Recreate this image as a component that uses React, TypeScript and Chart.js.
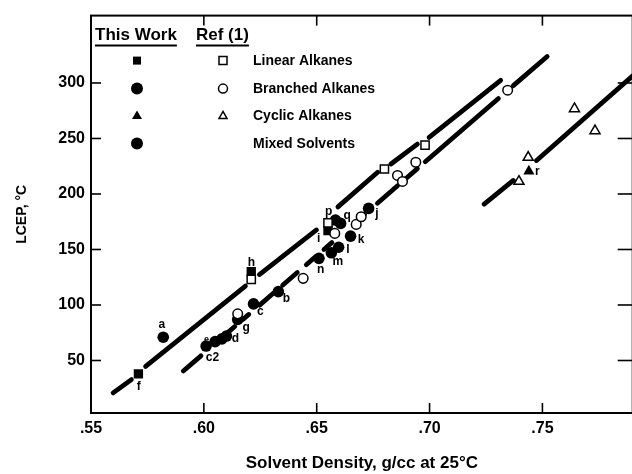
import React, { useEffect, useRef } from 'react';
import { Chart, registerables } from 'chart.js';

Chart.register(...registerables);

const FONT = "'Liberation Sans', Arial, Helvetica, sans-serif";

// ---- axes ----
const xTickValues = [0.55, 0.6, 0.65, 0.7, 0.75];
const xTickLabels = ['.55', '.60', '.65', '.70', '.75'];
const yTickValues = [50, 100, 150, 200, 250, 300];
const yTickLabels = ['50', '100', '150', '200', '250', '300'];
const xMin = 0.55;
const xMax = 0.79;
const yMin = 2.7;
const yMax = 360.7;
const xTitle = 'Solvent Density, g/cc at 25°C';
const yTitle = 'LCEP, °C';

// ---- This Work (filled markers) ----
const workLinearX = [0.571, 0.621, 0.655];
const workLinearY = [38, 130, 167];
const workCircleX = [0.582, 0.601, 0.605, 0.608, 0.61, 0.615, 0.622, 0.633, 0.651, 0.6565, 0.6597, 0.665, 0.6583, 0.6606, 0.673];
const workCircleY = [71, 63, 67, 69.5, 72, 87, 101, 112, 142, 147, 152, 162, 176.5, 173.5, 187];
const workCyclicX = [0.744];
const workCyclicY = [220.5];

// ---- Ref (1) (open markers) ----
const refLinearX = [0.621, 0.655, 0.68, 0.698];
const refLinearY = [123, 174, 222.5, 244];
const refBranchedX = [0.615, 0.644, 0.658, 0.6675, 0.6697, 0.6858, 0.688, 0.6939, 0.7346];
const refBranchedY = [92, 124, 164.5, 172.6, 179.5, 216.7, 211.3, 228.6, 293.5];
const refCyclicX = [0.7396, 0.7437, 0.7642, 0.7733];
const refCyclicY = [211.3, 233, 276.8, 256.9];

// ---- correlation lines (null = break in the line) ----
const lineAX = [0.5598, 0.5679, 0.571, 0.5742, 0.6184, 0.621, 0.6246, 0.6499, 0.655, 0.6594, 0.677, 0.68, 0.6829, 0.6946, 0.698, 0.6998, 0.7315];
const lineAY = [20.8, 32.8, null, 44.6, 117, null, 127.4, 167.6, null, 188.4, 219.6, null, 227, 244.9, null, 250.9, 302.4];
const lineBX = [0.5909, 0.5987, 0.603, 0.6107, 0.6137, 0.6155, 0.6173, 0.6199, 0.622, 0.6247, 0.6309, 0.633, 0.6349, 0.6414, 0.643, 0.6454, 0.6493, 0.651, 0.6532, 0.6567, 0.66, 0.6675, 0.6712, 0.673, 0.6769, 0.6858, 0.687, 0.6889, 0.6946, 0.696, 0.6981, 0.7305, 0.734, 0.7371, 0.7521];
const lineBY = [40.5, 54.2, null, 75.3, 80.6, null, 86.9, 91.5, null, 99.9, 110.8, null, 117.8, 129.3, null, 136.3, 143.2, null, 150, 156.2, null, 175.2, 181.6, null, 191.7, 207.4, null, 212.8, 222.8, null, 229, 286, null, 297.6, 323.9];
const lineCX = [0.7242, 0.7371, 0.742, 0.7474, 0.79];
const lineCY = [190.8, 212.2, null, 230.1, 306.4];

// ---- point labels ----
const labelText = ['a', 'b', 'c', 'c2', 'd', 'e', 'f', 'g', 'h', 'i', 'j', 'k', 'l', 'm', 'n', 'p', 'q', 'r'];
const labelX = [0.5814, 0.6366, 0.625, 0.6038, 0.614, 0.6012, 0.5712, 0.6187, 0.6211, 0.6509, 0.6767, 0.6697, 0.6638, 0.6594, 0.6518, 0.6553, 0.6635, 0.7478];
const labelY = [81.9, 105.4, 94, 52.4, 69.4, 68.8, 26, 79.7, 137.8, 159.6, 182.4, 158.7, 149.7, 139.3, 131.9, 184, 180.4, 220.5];

// ---- legend ----
const legendHeaders = ['This Work', 'Ref (1)'];
const legendRows = ['Linear Alkanes', 'Branched Alkanes', 'Cyclic Alkanes', 'Mixed Solvents'];
const legendShapes = ['square', 'circle', 'triangle', 'circle'];
const legendHasRef = [true, true, true, false];

const pts = (xs: number[], ys: (number | null)[]) => xs.map((x, i) => ({ x, y: ys[i] }));

function drawShape(ctx: CanvasRenderingContext2D, shape: string, x: number, y: number, size: number, filled: boolean) {
  ctx.beginPath();
  if (shape === 'square') {
    ctx.rect(x - size / 2, y - size / 2, size, size);
  } else if (shape === 'circle') {
    ctx.arc(x, y, size / 2, 0, Math.PI * 2);
  } else {
    const h = size * 0.87;
    ctx.moveTo(x, y - h * 0.6);
    ctx.lineTo(x + size / 2, y + h * 0.4);
    ctx.lineTo(x - size / 2, y + h * 0.4);
    ctx.closePath();
  }
  if (filled) {
    ctx.fillStyle = '#000';
    ctx.fill();
  } else {
    ctx.fillStyle = '#fff';
    ctx.fill();
    ctx.lineWidth = 1.5;
    ctx.strokeStyle = '#000';
    ctx.stroke();
  }
}

const framePlugin = {
  id: 'frameTicks',
  afterDatasetsDraw(chart: any) {
    const { ctx, chartArea, scales } = chart;
    const { left, right, top, bottom } = chartArea;
    const xs = scales.x;
    const ys = scales.y;
    ctx.save();
    ctx.strokeStyle = '#000';
    ctx.lineWidth = 2;
    ctx.strokeRect(left, top, right - left, bottom - top);
    ctx.lineWidth = 1.6;
    const tl = 10;
    const seg = (x1: number, y1: number, x2: number, y2: number) => {
      ctx.beginPath();
      ctx.moveTo(x1, y1);
      ctx.lineTo(x2, y2);
      ctx.stroke();
    };
    xTickValues.forEach((v) => {
      if (v === xMin) return;
      const px = xs.getPixelForValue(v);
      seg(px, bottom, px, bottom - tl);
      seg(px, top, px, top + tl);
    });
    yTickValues.forEach((v) => {
      const py = ys.getPixelForValue(v);
      seg(left, py, left + tl, py);
      seg(right, py, right - tl - 5, py);
    });

    // point labels
    ctx.fillStyle = '#000';
    ctx.textAlign = 'center';
    ctx.textBaseline = 'middle';
    labelText.forEach((t, i) => {
      ctx.font = `bold ${t === 'e' ? 9 : 12}px ${FONT}`;
      ctx.fillText(t, xs.getPixelForValue(labelX[i]), ys.getPixelForValue(labelY[i]));
    });

    // legend
    const L = left;
    const T = top;
    ctx.textAlign = 'left';
    ctx.font = `bold 17px ${FONT}`;
    const hx = [L + 4, L + 105];
    legendHeaders.forEach((h, i) => {
      ctx.fillText(h, hx[i], T + 20);
      const w = ctx.measureText(h).width;
      ctx.lineWidth = 2;
      seg(hx[i], T + 30, hx[i] + w, T + 30);
    });
    ctx.font = `bold 14px ${FONT}`;
    const rowY = [T + 45, T + 73, T + 100, T + 128];
    legendRows.forEach((r, i) => {
      const y = rowY[i];
      const shp = legendShapes[i];
      const fs = shp === 'circle' ? 12 : shp === 'square' ? 8 : 10;
      drawShape(ctx, shp, L + 46, y, fs, true);
      if (legendHasRef[i]) drawShape(ctx, shp, L + 132, y, shp === 'circle' ? 9 : 8, false);
      ctx.fillStyle = '#000';
      ctx.fillText(r, L + 162, y + 1);
    });
    ctx.restore();
  },
};

const lineDs = (xs: number[], ys: (number | null)[]) => ({
  type: 'line' as const,
  data: pts(xs, ys),
  showLine: true,
  spanGaps: false,
  borderColor: '#000',
  borderWidth: 4.8,
  borderCapStyle: 'round' as const,
  pointRadius: 0,
  pointHoverRadius: 0,
  tension: 0,
  order: 10,
});

const markerDs = (xs: number[], ys: number[], style: string, radius: number, filled: boolean) => ({
  type: 'scatter' as const,
  data: pts(xs, ys),
  showLine: false,
  pointStyle: style,
  pointRadius: radius,
  pointBackgroundColor: filled ? '#000' : '#fff',
  pointBorderColor: '#000',
  pointBorderWidth: filled ? 0 : 1.5,
  order: 0,
});

export default function App() {
  const ref = useRef<HTMLCanvasElement | null>(null);

  useEffect(() => {
    if (!ref.current) return;
    const chart = new Chart(ref.current, {
      type: 'scatter',
      data: {
        datasets: [
          lineDs(lineAX, lineAY),
          lineDs(lineBX, lineBY),
          lineDs(lineCX, lineCY),
          markerDs(refLinearX, refLinearY, 'rect', 5.8, false),
          markerDs(refBranchedX, refBranchedY, 'circle', 4.8, false),
          markerDs(refCyclicX, refCyclicY, 'triangle', 5.8, false),
          markerDs(workLinearX, workLinearY, 'rect', 6.6, true),
          markerDs(workCircleX, workCircleY, 'circle', 5.8, true),
          markerDs(workCyclicX, workCyclicY, 'triangle', 6.4, true),
        ] as any,
      },
      options: {
        responsive: false,
        animation: false,
        events: [],
        layout: { padding: { top: 12, right: 3, left: 0, bottom: 0 } },
        plugins: { legend: { display: false }, tooltip: { enabled: false } },
        scales: {
          x: {
            type: 'linear',
            min: xMin,
            max: xMax,
            grid: { display: false, drawTicks: false },
            border: { display: false },
            afterBuildTicks: (s: any) => {
              s.ticks = xTickValues.map((v) => ({ value: v }));
            },
            afterFit: (s: any) => {
              s.height = 61;
            },
            ticks: {
              autoSkip: false,
              maxRotation: 0,
              padding: 6,
              color: '#000',
              font: { family: FONT, weight: 'bold', size: 16 },
              callback: (_v: any, i: number) => xTickLabels[i],
            },
            title: {
              display: true,
              text: xTitle,
              color: '#000',
              padding: { top: 0, bottom: 0 },
              font: { family: FONT, weight: 'bold', size: 17 },
            },
          },
          y: {
            type: 'linear',
            min: yMin,
            max: yMax,
            grid: { display: false, drawTicks: false },
            border: { display: false },
            afterBuildTicks: (s: any) => {
              s.ticks = yTickValues.map((v) => ({ value: v }));
            },
            afterFit: (s: any) => {
              s.width = 91;
            },
            ticks: {
              autoSkip: false,
              padding: 6,
              color: '#000',
              font: { family: FONT, weight: 'bold', size: 16 },
              callback: (_v: any, i: number) => yTickLabels[i],
            },
            title: {
              display: true,
              text: yTitle,
              color: '#000',
              padding: { top: 14, bottom: 0 },
              font: { family: FONT, weight: 'bold', size: 14 },
            },
          },
        },
      } as any,
      plugins: [framePlugin],
    });
    return () => chart.destroy();
  }, []);

  return (
    <div style={{ position: 'fixed', left: 0, top: 0, width: 632, height: 474, overflow: 'hidden', background: '#fff' }}>
      <canvas ref={ref} width={640} height={474} style={{ display: 'block' }} />
    </div>
  );
}
